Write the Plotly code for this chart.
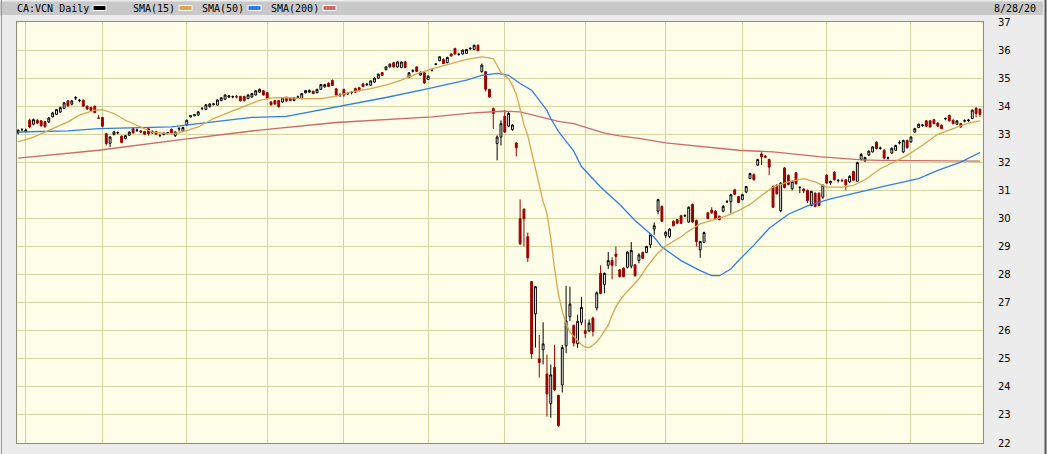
import plotly.graph_objects as go

# CA:VCN daily candles, one entry per trading day (29 Aug 2019 .. 28 Aug 2020)
opens = [
    33.05, 33.16, 33.1, 33.5, 33.36, 33.5, 33.48, 33.45, 33.44, 33.62,
    33.71, 33.79, 33.92, 34.19, 34.07, 34.29, 34.2, 34.21, 34.0, 33.96,
    34.0, 33.58, 33.6, 33.02, 32.68, 32.99, 33.05, 32.93, 32.85, 32.97,
    33.2, 33.14, 33.12, 33.1, 33.2, 33.05, 33.1, 32.95, 32.99, 33.02,
    33.18, 32.95, 33.19, 33.1, 33.33, 33.62, 33.66, 33.68, 33.91, 33.88,
    33.98, 34.07, 34.04, 34.2, 34.25, 34.32, 34.33, 34.34, 34.35, 34.35,
    34.27, 34.33, 34.4, 34.5, 34.55, 34.48, 34.15, 34.2, 34.2, 34.15,
    34.32, 34.28, 34.2, 34.32, 34.27, 34.48, 34.5, 34.53, 34.48, 34.6,
    34.69, 34.82, 34.92, 34.62, 34.4, 34.6, 34.44, 34.48, 34.63, 34.66,
    34.8, 34.77, 34.75, 34.86, 35.0, 35.2, 35.3, 35.4, 35.55, 35.4,
    35.38, 35.58, 35.02, 35.25, 35.4, 35.11, 35.19, 34.95, 35.27, 35.49,
    35.62, 35.67, 35.55, 35.86, 36.06, 35.84, 35.86, 35.88, 36.05, 36.02,
    36.17, 35.23, 35.23, 34.6, 33.92, 32.67, 32.9, 33.64, 33.29, 33.17,
    32.69, 29.99, 30.33, 29.35, 27.75, 26.6, 25.0, 25.32, 24.46, 23.4,
    24.7, 23.7, 24.07, 25.46, 26.5, 26.19, 25.54, 26.3, 26.0, 26.0,
    26.45, 26.81, 28.04, 27.65, 28.33, 28.5, 28.73, 28.17, 28.23, 28.26,
    28.3, 28.35, 28.5, 28.79, 28.79, 29.06, 29.62, 30.26, 30.43, 29.39,
    29.36, 29.9, 29.96, 30.1, 30.09, 29.87, 30.5, 29.93, 28.88, 29.15,
    30.2, 30.3, 30.26, 30.08, 30.26, 30.59, 30.6, 31.02, 30.78, 30.67,
    30.94, 31.42, 31.56, 31.9, 32.3, 32.22, 32.1, 31.14, 31.18, 30.28,
    31.8, 31.54, 31.06, 31.63, 31.1, 31.05, 31.0, 30.46, 30.9, 30.9,
    30.76, 31.54, 31.27, 31.65, 31.35, 31.36, 31.38, 31.3, 31.67, 31.32,
    32.1, 32.05, 32.26, 32.37, 32.72, 32.5, 32.43, 32.15, 32.33, 32.43,
    32.69, 32.37, 32.78, 32.73, 33.08, 33.24, 33.32, 33.48, 33.48, 33.52,
    33.4, 33.32, 33.55, 33.67, 33.5, 33.36, 33.38, 33.47, 33.49, 33.56,
    33.93, 33.89,
]
highs = [
    33.18, 33.22, 33.2, 33.56, 33.56, 33.54, 33.5, 33.47, 33.62, 33.8,
    33.9, 33.98, 34.15, 34.22, 34.22, 34.36, 34.26, 34.24, 34.03, 33.98,
    34.02, 33.68, 33.62, 33.05, 32.93, 33.12, 33.1, 32.96, 32.98, 33.1,
    33.22, 33.2, 33.15, 33.12, 33.22, 33.14, 33.12, 33.0, 33.07, 33.08,
    33.2, 33.1, 33.26, 33.27, 33.52, 33.68, 33.72, 33.82, 33.97, 34.08,
    34.1, 34.12, 34.24, 34.32, 34.42, 34.4, 34.38, 34.4, 34.37, 34.37,
    34.42, 34.47, 34.57, 34.63, 34.58, 34.5, 34.18, 34.22, 34.22, 34.32,
    34.34, 34.3, 34.32, 34.38, 34.47, 34.58, 34.6, 34.56, 34.62, 34.79,
    34.8, 34.85, 34.95, 34.65, 34.46, 34.62, 34.5, 34.54, 34.66, 34.68,
    34.82, 34.83, 34.92, 35.02, 35.16, 35.22, 35.42, 35.52, 35.58, 35.6,
    35.6, 35.6, 35.22, 35.32, 35.42, 35.24, 35.21, 35.1, 35.32, 35.54,
    35.78, 35.7, 35.76, 35.88, 36.08, 35.9, 36.02, 36.04, 36.1, 36.2,
    36.2, 35.52, 35.26, 34.62, 33.95, 32.96, 33.5, 33.86, 33.8, 33.36,
    32.72, 30.68, 30.36, 29.5, 27.77, 27.6, 25.85, 26.3, 25.15, 24.8,
    25.5, 23.72, 25.5, 27.6, 27.57, 26.22, 26.57, 27.2, 26.4, 26.4,
    26.5, 27.4, 28.33, 28.08, 28.8, 28.62, 29.0, 28.2, 28.26, 28.83,
    29.16, 28.38, 28.76, 28.82, 29.03, 29.45, 29.86, 30.7, 30.46, 29.55,
    29.66, 29.93, 29.98, 30.13, 30.15, 30.43, 30.53, 29.96, 29.2, 29.53,
    30.23, 30.4, 30.3, 30.1, 30.48, 30.66, 30.88, 31.05, 30.8, 30.88,
    31.16, 31.63, 31.6, 32.13, 32.36, 32.26, 32.13, 31.18, 31.22, 31.3,
    31.83, 31.57, 31.35, 31.66, 31.14, 31.08, 31.03, 30.99, 30.93, 30.93,
    31.22, 31.58, 31.35, 31.68, 31.4, 31.42, 31.4, 31.54, 31.7, 32.02,
    32.33, 32.2, 32.42, 32.57, 32.75, 32.56, 32.46, 32.2, 32.53, 32.63,
    32.78, 32.8, 32.81, 32.93, 33.23, 33.38, 33.37, 33.5, 33.5, 33.55,
    33.43, 33.35, 33.6, 33.7, 33.53, 33.5, 33.41, 33.53, 33.55, 33.88,
    33.96, 33.92,
]
lows = [
    33.0, 33.1, 33.06, 33.22, 33.32, 33.36, 33.28, 33.22, 33.4, 33.6,
    33.68, 33.76, 33.9, 33.98, 34.03, 34.22, 34.14, 33.98, 33.87, 33.82,
    33.75, 33.55, 33.25, 32.6, 32.55, 32.96, 33.0, 32.68, 32.82, 32.94,
    33.03, 33.08, 33.05, 32.98, 32.95, 33.02, 32.98, 32.9, 32.96, 33.0,
    33.0, 32.9, 33.1, 33.08, 33.3, 33.6, 33.64, 33.66, 33.86, 33.86,
    33.96, 34.02, 34.02, 34.18, 34.22, 34.3, 34.28, 34.28, 34.17, 34.17,
    34.25, 34.3, 34.38, 34.47, 34.38, 34.25, 34.02, 34.05, 33.95, 34.12,
    34.16, 34.18, 34.18, 34.28, 34.25, 34.45, 34.48, 34.43, 34.46, 34.58,
    34.66, 34.68, 34.72, 34.35, 34.33, 34.33, 34.4, 34.42, 34.48, 34.53,
    34.68, 34.72, 34.73, 34.84, 34.98, 35.08, 35.28, 35.38, 35.38, 35.37,
    35.35, 35.35, 35.0, 35.2, 35.22, 35.09, 34.8, 34.93, 35.24, 35.46,
    35.6, 35.5, 35.53, 35.77, 35.84, 35.8, 35.84, 35.86, 36.0, 36.0,
    35.96, 35.2, 34.52, 34.3, 33.19, 32.07, 32.6, 33.05, 33.25, 33.12,
    32.21, 29.05, 29.0, 28.45, 25.0, 25.4, 24.33, 24.8, 22.94, 22.9,
    23.85, 22.58, 23.8, 25.2, 26.35, 25.44, 25.39, 26.2, 25.75, 25.95,
    25.8, 26.72, 27.3, 27.33, 28.2, 27.83, 28.3, 27.9, 27.9, 28.22,
    28.22, 27.93, 28.4, 28.55, 28.76, 28.95, 29.42, 30.15, 29.87, 29.3,
    29.3, 29.72, 29.8, 29.8, 30.05, 29.85, 29.85, 29.0, 28.6, 29.12,
    29.97, 30.17, 29.96, 29.93, 30.22, 30.55, 30.2, 30.83, 30.55, 30.65,
    30.9, 31.4, 31.35, 31.88, 31.9, 32.15, 31.54, 30.37, 30.85, 30.22,
    31.07, 31.18, 31.0, 31.2, 30.9, 30.9, 30.55, 30.43, 30.4, 30.43,
    30.7, 31.23, 31.2, 31.35, 31.28, 31.3, 31.0, 31.28, 31.33, 31.3,
    32.07, 32.02, 32.22, 32.35, 32.46, 32.45, 32.12, 32.1, 32.3, 32.4,
    32.64, 32.33, 32.49, 32.7, 33.05, 33.22, 33.27, 33.26, 33.24, 33.35,
    33.26, 33.18, 33.5, 33.45, 33.35, 33.33, 33.23, 33.42, 33.44, 33.54,
    33.6, 33.62,
]
closes = [
    33.14, 33.17, 33.15, 33.26, 33.52, 33.4, 33.3, 33.28, 33.58, 33.76,
    33.88, 33.95, 34.12, 34.01, 34.19, 34.3, 34.21, 34.0, 33.9, 33.85,
    33.77, 33.57, 33.29, 32.67, 32.9, 33.08, 33.06, 32.71, 32.95, 33.08,
    33.05, 33.15, 33.08, 33.0, 33.02, 33.1, 33.0, 32.96, 33.04, 33.06,
    33.03, 33.08, 33.2, 33.24, 33.5, 33.66, 33.7, 33.8, 33.92, 34.05,
    34.08, 34.08, 34.22, 34.3, 34.4, 34.37, 34.34, 34.33, 34.19, 34.2,
    34.4, 34.45, 34.55, 34.6, 34.4, 34.27, 34.05, 34.08, 33.98, 34.3,
    34.19, 34.2, 34.3, 34.33, 34.45, 34.56, 34.56, 34.45, 34.6, 34.77,
    34.77, 34.7, 34.74, 34.4, 34.41, 34.4, 34.45, 34.49, 34.5, 34.55,
    34.7, 34.78, 34.9, 35.0, 35.14, 35.1, 35.4, 35.5, 35.4, 35.58,
    35.57, 35.38, 35.19, 35.26, 35.24, 35.2, 34.83, 35.07, 35.28, 35.5,
    35.76, 35.52, 35.74, 35.79, 35.86, 35.85, 36.0, 36.02, 36.06, 36.17,
    35.98, 35.46, 34.6, 34.33, 33.74, 32.9, 33.38, 33.08, 33.74, 33.33,
    32.52, 29.1, 29.99, 28.6, 25.18, 27.57, 24.87, 25.53, 23.75, 24.43,
    23.9, 22.62, 25.4, 26.35, 26.95, 25.56, 26.33, 26.83, 25.9, 26.27,
    25.98, 27.35, 27.33, 28.04, 28.5, 28.33, 28.65, 27.93, 27.93, 28.8,
    28.86, 27.96, 28.7, 28.58, 29.0, 29.42, 29.74, 30.67, 29.9, 29.51,
    29.62, 29.74, 29.83, 29.83, 30.1, 30.4, 29.87, 29.18, 29.18, 29.5,
    30.0, 30.2, 29.99, 29.96, 30.43, 30.6, 30.85, 30.86, 30.57, 30.85,
    31.14, 31.6, 31.38, 32.1, 32.2, 32.18, 31.83, 30.4, 30.88, 31.26,
    31.1, 31.21, 31.32, 31.24, 31.11, 30.98, 30.64, 30.96, 30.43, 30.46,
    31.18, 31.26, 31.32, 31.38, 31.36, 31.35, 31.2, 31.5, 31.36, 31.99,
    32.28, 32.17, 32.4, 32.55, 32.49, 32.51, 32.15, 32.16, 32.5, 32.6,
    32.7, 32.78, 32.52, 32.9, 33.2, 33.36, 33.33, 33.29, 33.26, 33.38,
    33.29, 33.2, 33.56, 33.48, 33.38, 33.48, 33.26, 33.48, 33.5, 33.86,
    33.74, 33.71,
]
days = list(range(len(closes)))

# first trading day of each month (Sep 2019 .. Aug 2020), as day index
month_starts = [2, 22, 44, 65, 85, 107, 127, 148, 169, 189, 211, 233]
price_ticks = list(range(22, 38))

# moving averages (day index, value)
sma15_days = [0, 4, 8, 13, 16, 20, 22, 25, 28, 32, 35, 39, 42, 47, 51, 55, 60, 63, 66,
              70, 74, 79, 83, 87, 92, 96, 100, 104, 108, 113, 117, 121, 124, 126, 128,
              129, 130, 131, 132, 133, 134, 135, 136, 137, 138, 139, 140, 141, 142, 143,
              144, 145, 146, 147, 148, 149, 150, 151, 152, 153, 154, 155, 156, 157, 158,
              160, 162, 164, 167, 169, 173, 175, 178, 181, 185, 188, 191, 194, 197, 201,
              205, 208, 211, 215, 218, 221, 225, 228, 232, 236, 240, 244, 248, 251]
sma15_vals = [32.73, 32.9, 33.14, 33.44, 33.68, 33.86, 33.88, 33.74, 33.5, 33.26, 33.08,
              33.02, 33.05, 33.26, 33.56, 33.78, 34.05, 34.21, 34.3, 34.31, 34.27, 34.27,
              34.36, 34.51, 34.63, 34.75, 34.93, 35.15, 35.33, 35.52, 35.67, 35.76, 35.7,
              35.2, 34.98, 34.75, 34.42, 33.9, 33.35, 32.95, 32.35, 31.75, 31.1, 30.6,
              30.18, 29.3, 28.2, 27.3, 26.7, 26.25, 25.95, 25.8, 25.65, 25.5, 25.42, 25.4,
              25.49, 25.6, 25.78, 26.0, 26.2, 26.55, 26.85, 27.07, 27.25, 27.55, 27.85,
              28.26, 28.78, 29.02, 29.35, 29.55, 29.81, 29.93, 30.1, 30.28, 30.5, 30.82,
              31.12, 31.3, 31.42, 31.3, 31.12, 31.12, 31.18, 31.38, 31.77, 31.97, 32.25,
              32.61, 33.0, 33.2, 33.4, 33.48]

sma50_days = [0, 13, 21, 40, 47, 61, 70, 83, 96, 107, 117, 121, 125, 128, 131, 134, 136,
              138, 139, 141, 143, 145, 147, 152, 157, 161, 166, 168, 173, 178, 181, 183,
              186, 188, 192, 196, 201, 206, 212, 218, 222, 227, 235, 240, 246, 251]
sma50_vals = [33.08, 33.12, 33.2, 33.26, 33.38, 33.6, 33.64, 33.98, 34.31, 34.63, 34.93,
              35.1, 35.17, 35.1, 34.81, 34.57, 34.2, 33.85, 33.56, 33.1, 32.75, 32.4,
              31.85, 31.12, 30.5, 29.93, 29.33, 28.98, 28.5, 28.14, 27.96, 27.96, 28.2,
              28.5, 29.05, 29.65, 30.15, 30.45, 30.7, 30.88, 31.02, 31.18, 31.42, 31.71,
              32.01, 32.35]

sma200_days = [0, 21, 42, 63, 83, 100, 108, 118, 126, 131, 136, 141, 145, 153, 157, 162,
               169, 179, 188, 197, 209, 220, 225, 251]
sma200_vals = [32.15, 32.43, 32.8, 33.15, 33.42, 33.57, 33.62, 33.75, 33.82, 33.8, 33.63,
               33.46, 33.38, 33.04, 32.94, 32.85, 32.69, 32.55, 32.43, 32.37, 32.2, 32.09,
               32.07, 32.04]

C_SMA15 = "#d9a54f"
C_SMA50 = "#2f7de8"
C_SMA200 = "#cc6a6a"
C_DOWN = "#9a0000"
GRID = "#d3d3a2"

fig = go.Figure()
for xs, ys, col in [(sma200_days, sma200_vals, C_SMA200),
                    (sma50_days, sma50_vals, C_SMA50),
                    (sma15_days, sma15_vals, C_SMA15)]:
    fig.add_scatter(x=xs, y=ys, mode="lines", line=dict(color=col, width=1.3),
                    showlegend=False, hoverinfo="skip")

fig.add_trace(go.Candlestick(
    x=days, open=opens, high=highs, low=lows, close=closes,
    increasing=dict(line=dict(color="#000000", width=1), fillcolor="#ffffff"),
    decreasing=dict(line=dict(color=C_DOWN, width=1), fillcolor=C_DOWN),
    whiskerwidth=0, showlegend=False, hoverinfo="skip",
))

# paper coords from pixel positions of the 1047x454 canvas
L, R, T, B = 17, 64, 22, 11
PW, PH = 1047 - L - R, 454 - T - B
px = lambda v: (v - L) / PW
py = lambda v: (454 - B - v) / PH

shapes = [
    dict(type="rect", xref="paper", yref="paper", x0=px(0), x1=px(1043),
         y0=py(15), y1=py(1.5), fillcolor="#c8c8c8", line=dict(width=0), layer="below"),
    dict(type="line", xref="paper", yref="paper", x0=px(1045.5), x1=px(1045.5),
         y0=py(454), y1=py(0), line=dict(color="#555555", width=2)),
    dict(type="line", xref="paper", yref="paper", x0=px(1.5), x1=px(1.5),
         y0=py(454), y1=py(0), line=dict(color="#9a9a9a", width=1)),
]
for x0, col in [(93, "#000000"), (179, C_SMA15), (248, C_SMA50), (323, C_SMA200)]:
    shapes.append(dict(type="rect", xref="paper", yref="paper", x0=px(x0), x1=px(x0 + 13),
                       y0=py(10.5), y1=py(5.5), fillcolor=col,
                       line=dict(color="#ffffff", width=1)))

hdr = dict(family="DejaVu Sans Mono", size=10, color="#000000")
annotations = [
    dict(text=t, x=px(x0), y=py(8.5), xref="paper", yref="paper", xanchor="left",
         yanchor="middle", showarrow=False, font=hdr, borderpad=0)
    for t, x0 in [("CA:VCN Daily", 16), ("SMA(15)", 132), ("SMA(50)", 201), ("SMA(200)", 270)]
]
annotations.append(dict(text="8/28/20", x=px(1037), y=py(8.5), xref="paper", yref="paper",
                        xanchor="right", yanchor="middle", showarrow=False, font=hdr,
                        borderpad=0))

fig.update_layout(
    width=1047, height=454,
    margin=dict(l=L, r=R, t=T, b=B, autoexpand=False),
    paper_bgcolor="#ececec", plot_bgcolor="#fefee9",
    shapes=shapes, annotations=annotations,
    xaxis=dict(range=[-0.3, 251.8], tickvals=month_starts, showticklabels=False,
               ticks="", showgrid=True, gridcolor=GRID, gridwidth=1, zeroline=False,
               showline=True, mirror=True, linecolor="#8c8c78", linewidth=1,
               automargin=False, rangeslider=dict(visible=False)),
    yaxis=dict(range=[22, 37], side="right", tickvals=price_ticks, ticks="",
               showgrid=True, gridcolor=GRID, gridwidth=1, zeroline=False,
               showline=True, mirror=True, linecolor="#8c8c78", linewidth=1,
               automargin=False, ticklabelstandoff=12,
               tickfont=dict(family="DejaVu Sans", size=10, color="#000000")),
)

fig.write_html("out.html", config={"displayModeBar": False},
               post_script="document.body.style.margin='0px';")
